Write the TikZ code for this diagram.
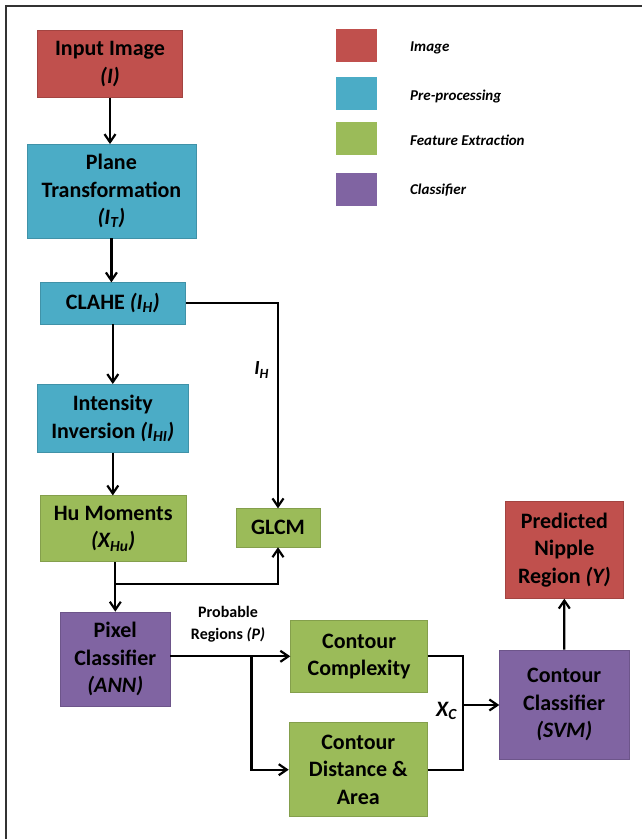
\documentclass[tikz,border=0pt]{standalone}
\usepackage{fontspec}
\setmainfont{Carlito}
\usetikzlibrary{arrows.meta}
\definecolor{imgred}{HTML}{C0504D}
\definecolor{preblue}{HTML}{4BACC6}
\definecolor{featgreen}{HTML}{9BBB59}
\definecolor{clspurple}{HTML}{8064A2}
\begin{document}
\begin{tikzpicture}[
  x=1pt, y=-1pt,
  blk/.style={inner sep=0pt, align=center, font=\fontsize{22}{27.5}\selectfont\bfseries},
  imagebox/.style={blk, fill=imgred, draw=imgred!85!black, line width=0.6pt},
  prebox/.style={blk, fill=preblue, draw=preblue!85!black, line width=0.6pt},
  featbox/.style={blk, fill=featgreen, draw=featgreen!85!black, line width=0.6pt},
  clsbox/.style={blk, fill=clspurple, draw=clspurple!85!black, line width=0.6pt},
  keybox/.style={minimum width=41.6pt, minimum height=32.7pt, inner sep=0pt, line width=0.6pt},
  keytext/.style={anchor=west, inner sep=0pt, font=\fontsize{15}{17}\selectfont\bfseries\itshape},
  lbl/.style={inner sep=1pt, align=center, font=\bfseries},
  flow/.style={line width=2.2pt},
  >={Straight Barb[length=8pt, width=11pt]}
]
  \useasboundingbox (0,0) rectangle (641,839);
  \draw[line width=1.3pt, black!80] (6,845) -- (6,6) -- (650,6);

  % main chain on the left
  \node[imagebox, minimum width=144.7pt, minimum height=66.6pt] (inimg) at (110,64) {Input Image\\\textit{(I)}};
  \node[prebox, minimum width=168.8pt, minimum height=93.7pt] (plane) at (111.4,191.2) {Plane\\Transformation\\\textit{(I\textsubscript{T})}};
  \node[prebox, minimum width=145.6pt, minimum height=41.3pt] (clahe) at (112.8,303.3) {CLAHE \textit{(I\textsubscript{H})}};
  \node[prebox, minimum width=150.4pt, minimum height=68pt] (inten) at (112.8,418.3) {Intensity\\Inversion \textit{(I\textsubscript{HI})}};
  \node[featbox, minimum width=146.4pt, minimum height=66pt] (hu) at (113.2,528.7) {Hu Moments\\\textit{(X\textsubscript{Hu})}};
  \node[featbox, minimum width=84pt, minimum height=38.3pt] (glcm) at (278,527.8) {GLCM};
  \node[clsbox, minimum width=109.5pt, minimum height=94.7pt] (pixel) at (115.3,659.3) {Pixel\\Classifier\\\textit{(ANN)}};

  % contour stage
  \node[featbox, minimum width=137pt, minimum height=72.7pt] (ccomp) at (359.1,656.3) {Contour\\Complexity};
  \node[featbox, minimum width=138.6pt, minimum height=94pt] (cdist) at (358.3,769.7) {Contour\\Distance \&\\Area};
  \node[clsbox, minimum width=129.2pt, minimum height=109pt] (cclass) at (564.2,704.5) {Contour\\Classifier\\\textit{(SVM)}};
  \node[imagebox, minimum width=117.3pt, minimum height=97.3pt] (pred) at (564.4,549.7) {Predicted\\Nipple\\Region \textit{(Y)}};

  % legend
  \node[keybox, fill=imgred] (keyimg) at (356.5,45.3) {};
  \node[keybox, fill=preblue] (keypre) at (356.5,93.8) {};
  \node[keybox, fill=featgreen] (keyfeat) at (356.5,138.8) {};
  \node[keybox, fill=clspurple] (keycls) at (356.5,189.2) {};
  \node[keytext] (tximg) at (410,47.5) {Image};
  \node[keytext] (txpre) at (410,96.5) {Pre-processing};
  \node[keytext] (txfeat) at (410,140) {Feature Extraction};
  \node[keytext] (txcls) at (410,190) {Classifier};

  \coordinate (hub) at (pixel |- 0,584);
  \coordinate (split) at (251.4,656.3);
  \coordinate (merge) at (462.8,705);

  \draw[flow, ->] (inimg) -- (inimg |- plane.north);
  \draw[flow, ->] (plane) -- (plane |- clahe.north);
  \draw[flow, ->] (clahe) -- (clahe |- inten.north);
  \draw[flow, ->] (inten) -- (inten |- hu.north);
  \draw[flow, ->] (clahe) -| (glcm);
  \draw[flow] (pixel |- hu.south) -- (hub);
  \draw[flow, ->] (hub) -- (pixel);
  \draw[flow, ->] (hub) -| (glcm);
  \draw[flow, ->] (ccomp -| pixel.east) -- (ccomp.west);
  \draw[flow, ->] (split) |- (cdist.west);
  \draw[flow] (ccomp.east) -| (merge) |- (cdist.east);
  \draw[flow, ->] (merge) -- (merge -| cclass.west);
  \draw[flow, ->] (cclass) -- (pred);

  \node[lbl, font=\fontsize{20}{24}\selectfont\bfseries] (ih) at (261.6,370) {\textit{I\textsubscript{H}}};
  \node[lbl, font=\fontsize{16}{22}\selectfont\bfseries] (prob) at (228,624) {Probable\\Regions \textit{(P)}};
  \node[lbl, font=\fontsize{22}{26}\selectfont\bfseries] (xc) at (446.5,711) {\textit{X\textsubscript{C}}};
\end{tikzpicture}
\end{document}
